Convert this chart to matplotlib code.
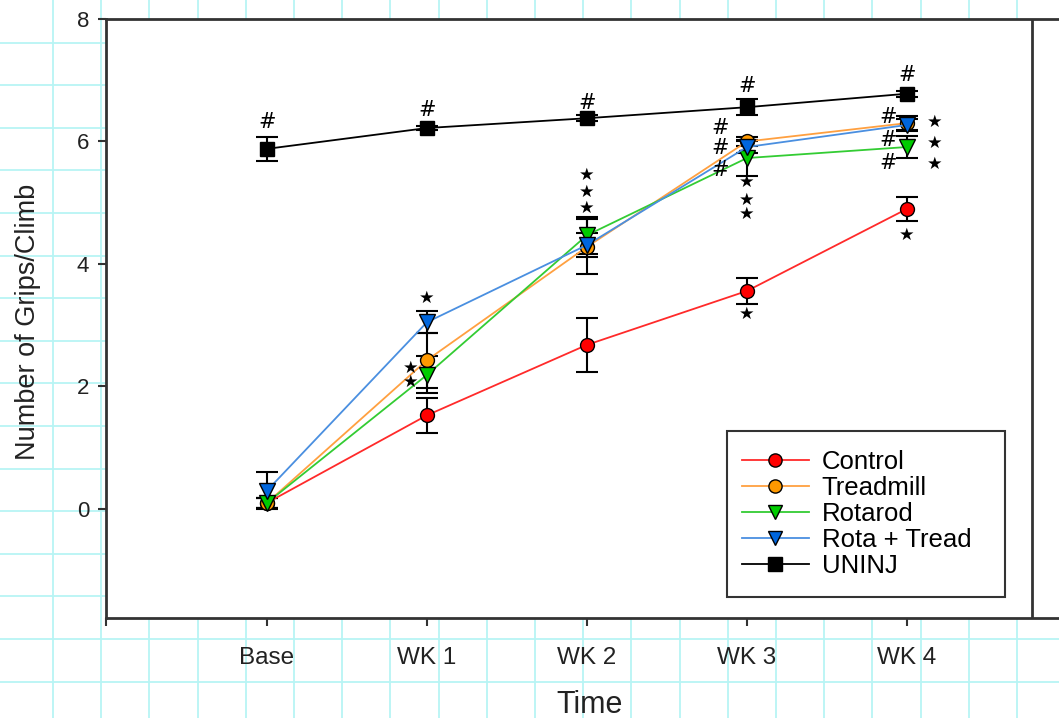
import matplotlib
matplotlib.use("Agg")
import matplotlib.pyplot as plt
from matplotlib.lines import Line2D
from matplotlib.patches import Rectangle
import numpy as np

plt.rcParams['font.family'] = ['Liberation Sans', 'DejaVu Sans']

# data
times = ["Base", "WK 1", "WK 2", "WK 3", "WK 4"]
control = [0.10, 1.53, 2.68, 3.56, 4.90]
control_err = [0.08, 0.29, 0.44, 0.21, 0.20]
treadmill = [0.10, 2.43, 4.28, 6.00, 6.30]
treadmill_err = [0.08, 0.45, 0.45, 0.08, 0.12]
rotarod = [0.10, 2.19, 4.47, 5.73, 5.91]
rotarod_err = [0.08, 0.30, 0.30, 0.30, 0.18]
rota_tread = [0.30, 3.05, 4.31, 5.91, 6.27]
rota_tread_err = [0.30, 0.18, 0.20, 0.10, 0.10]
uninj = [5.88, 6.22, 6.38, 6.56, 6.78]
uninj_err = [0.20, 0.04, 0.05, 0.13, 0.05]

# significance marks: (x position, y, symbol)
marks = [
    (0, 6.32, "#"), (1, 6.51, "#"), (2, 6.63, "#"), (3, 6.90, "#"), (4, 7.08, "#"),
    (1, 3.44, "*"), (0.9, 2.30, "*"), (0.9, 2.07, "*"),
    (2, 5.45, "*"), (2, 5.18, "*"), (2, 4.91, "*"),
    (2.83, 6.22, "#"), (2.83, 5.89, "#"), (2.83, 5.53, "#"),
    (3, 5.34, "*"), (3, 5.04, "*"), (3, 4.82, "*"), (3, 3.18, "*"),
    (3.88, 6.40, "#"), (3.88, 6.02, "#"), (3.88, 5.65, "#"),
    (4.17, 6.32, "*"), (4.17, 5.98, "*"), (4.17, 5.63, "*"), (4.0, 4.47, "*"),
]

W, H = 1059, 718
fig = plt.figure(figsize=(W / 100, H / 100), dpi=100)

# graph paper background
grid_c = "#b8f4f4"
for gx in np.arange(53, W, 48.2):
    fig.add_artist(Line2D([gx / W, gx / W], [0, 1], color=grid_c, lw=1.3, zorder=0))
for gy in np.arange(42.6, H, 42.6):
    fig.add_artist(Line2D([0, 1], [1 - gy / H, 1 - gy / H], color=grid_c, lw=1.3, zorder=0))

ax_l, ax_r, ax_t, ax_b = 106, W, 19, 618
ax = fig.add_axes([ax_l / W, (H - ax_b) / H, (ax_r - ax_l) / W, (ax_b - ax_t) / H])
ax.set_facecolor("white")
ax.set_zorder(1)


def fx(px):
    return (px - ax_l) / (ax_r - ax_l)


def fy(py):
    return (ax_b - py) / (ax_b - ax_t)


x = np.arange(len(times))
series = [
    ("Control", control, control_err, "#ff2a2a", "o", "#ff0000", 10),
    ("Treadmill", treadmill, treadmill_err, "#ffa040", "o", "#ff9900", 10),
    ("Rotarod", rotarod, rotarod_err, "#33cc33", "v", "#00cc00", 11),
    ("Rota + Tread", rota_tread, rota_tread_err, "#4a8fe0", "v", "#0066dd", 11),
    ("UNINJ", uninj, uninj_err, "black", "s", "black", 10),
]
for name, vals, err, lc, mk, fc, ms in series:
    ax.errorbar(x, vals, yerr=err, fmt="none", ecolor="black", elinewidth=1.5,
                capsize=8, capthick=1.5, zorder=2)
    ax.plot(x, vals, color=lc, lw=1.3, marker=mk, markersize=ms,
            markerfacecolor=fc, markeredgecolor="black", markeredgewidth=1.0,
            label=name, zorder=3)

for xi, yi, s in marks:
    if s == "#":
        ax.text(xi, yi, "#", ha="center", va="center", fontsize=15, color="black",
                family="DejaVu Sans", zorder=4)
    else:
        ax.text(xi, yi, "\u2605", ha="center", va="center", fontsize=12.5,
                color="black", family="DejaVu Sans", zorder=4)

x_left = (106 - 267) / 160
x_right = (W - 267) / 160
ax.set_xlim(x_left, x_right)
ax.set_ylim(-1.78, 8)
ax.axvline((1032 - 267) / 160, color="#333333", lw=2, zorder=1)

ax.set_xticks(list(x) + [x_left])
ax.set_xticklabels(times + [""])
ax.set_yticks([0, 2, 4, 6, 8])
ax.tick_params(axis="both", direction="out", length=6, width=1.5, colors="#333333",
               labelcolor="#222222")
ax.tick_params(axis="x", pad=15, labelsize=17.5)
ax.tick_params(axis="y", pad=6, labelsize=16)

for side in ["top", "bottom", "left"]:
    ax.spines[side].set_color("#333333")
    ax.spines[side].set_linewidth(2)
ax.spines["right"].set_visible(False)

ax.set_xlabel("Time", fontsize=22, color="#222222")
ax.xaxis.label.set_va("center")
ax.xaxis.set_label_coords(fx(590), fy(705))
ax.set_ylabel("Number of Grips/Climb", fontsize=19.5, color="#222222")
ax.yaxis.label.set_va("center")
ax.yaxis.set_label_coords(fx(28), fy(322))

# legend box drawn separately so its size matches the reference
ax.add_patch(Rectangle((fx(727), fy(597)), fx(1005) - fx(727), fy(431) - fy(597),
                       transform=ax.transAxes, facecolor="white", edgecolor="#333333",
                       lw=1.5, zorder=5))
leg = ax.legend(loc="upper left", bbox_to_anchor=(fx(742), fy(450)),
                fontsize=18.5, frameon=False,
                labelspacing=0.08, handlelength=2.6, handletextpad=0.5,
                borderpad=0, borderaxespad=0, markerscale=0.95)
leg.set_zorder(6)

fig.savefig("out.png", dpi=100)
